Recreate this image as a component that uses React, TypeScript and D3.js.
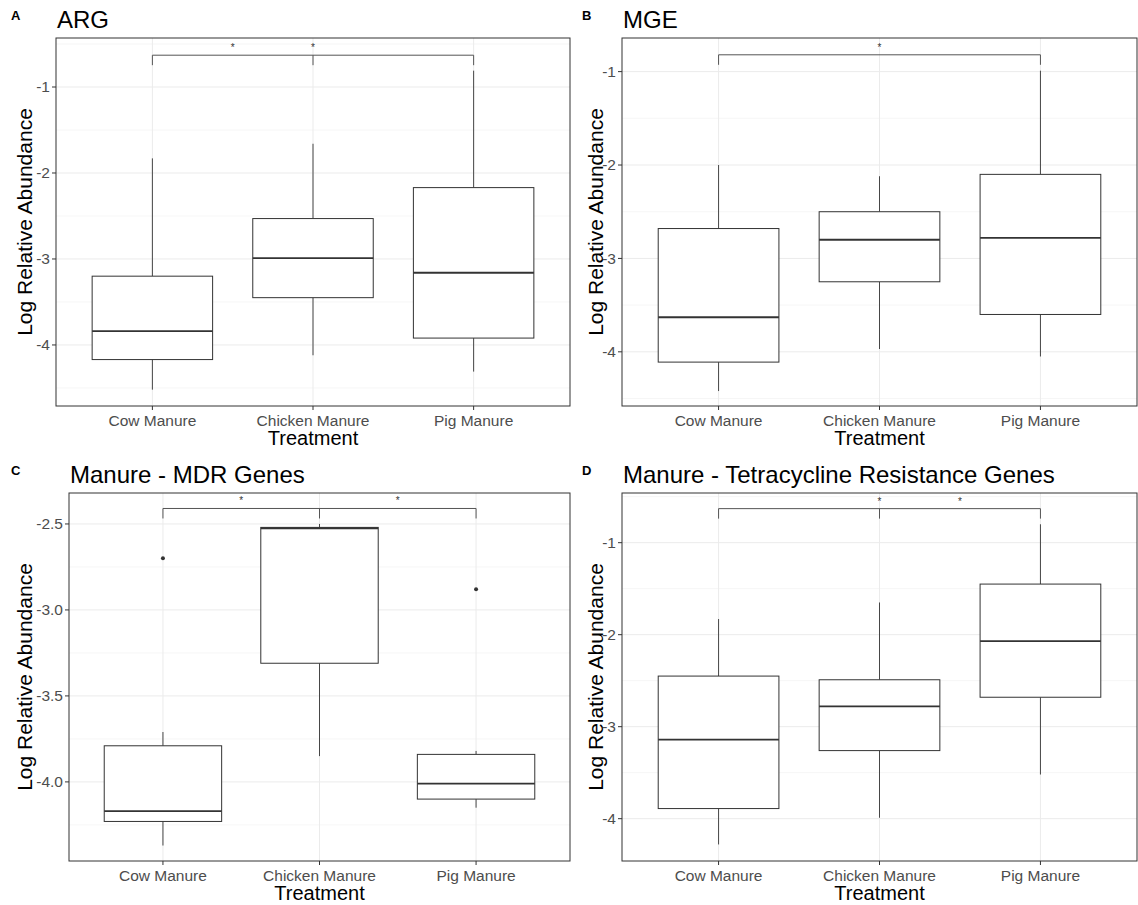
import React from "react";
import * as d3 from "d3";

// Treatment groups (x axis)
const categories = ["Cow Manure", "Chicken Manure", "Pig Manure"];

// Box statistics per group: [lower whisker, Q1, median, Q3, upper whisker]
const argStats = [
  [-4.52, -4.17, -3.84, -3.2, -1.83],
  [-4.12, -3.45, -2.99, -2.53, -1.66],
  [-4.31, -3.92, -3.16, -2.17, -0.81],
];
const mgeStats = [
  [-4.42, -4.11, -3.63, -2.68, -2.0],
  [-3.97, -3.25, -2.8, -2.5, -2.12],
  [-4.05, -3.6, -2.78, -2.1, -0.99],
];
const mdrStats = [
  [-4.37, -4.23, -4.17, -3.79, -3.71],
  [-3.85, -3.31, -2.525, -2.52, -2.5],
  [-4.15, -4.1, -4.01, -3.84, -3.82],
];
const tetStats = [
  [-4.28, -3.89, -3.14, -2.45, -1.83],
  [-3.99, -3.26, -2.78, -2.49, -1.65],
  [-3.52, -2.68, -2.07, -1.45, -0.8],
];

// Outliers: [group index, value]
const mdrOutliers: [number, number][] = [
  [0, -2.7],
  [2, -2.88],
];

// Significance comparisons: [group a, group b]
const argSig: [number, number][] = [[0, 1], [0, 2]];
const mgeSig: [number, number][] = [[0, 2]];
const mdrSig: [number, number][] = [[0, 1], [1, 2]];
const tetSig: [number, number][] = [[0, 2], [1, 2]];

// Bracket heights (data units)
const argSigY = -0.63;
const mgeSigY = -0.82;
const mdrSigY = -2.41;
const tetSigY = -0.63;

// Y axis ticks
const argTicks = [-4, -3, -2, -1];
const mgeTicks = [-4, -3, -2, -1];
const mdrTicks = [-4.0, -3.5, -3.0, -2.5];
const tetTicks = [-4, -3, -2, -1];

const argDomain = [-4.71, -0.43];
const mgeDomain = [-4.58, -0.64];
const mdrDomain = [-4.46, -2.32];
const tetDomain = [-4.46, -0.46];

type PanelProps = {
  tag: string;
  title: string;
  stats: number[][];
  outliers: [number, number][];
  sig: [number, number][];
  sigY: number;
  ticks: number[];
  domain: number[];
  tickFmt: (v: number) => string;
  originX: number;
  left: number;
  right: number;
  top: number;
  bottom: number;
  tagY: number;
};

const FONT = "'Liberation Sans', Arial, sans-serif";

function Panel(p: PanelProps) {
  const x = d3
    .scalePoint<string>()
    .domain(categories)
    .range([p.left, p.right])
    .padding(0.6);
  const step = x.step();
  const y = d3.scaleLinear().domain(p.domain).range([p.bottom, p.top]);
  const boxW = step * 0.75;

  const minor: number[] = [];
  for (let i = 0; i < p.ticks.length - 1; i++) {
    minor.push((p.ticks[i] + p.ticks[i + 1]) / 2);
  }
  const dt = p.ticks[1] - p.ticks[0];
  minor.push(p.ticks[0] - dt / 2, p.ticks[p.ticks.length - 1] + dt / 2);
  const minorIn = minor.filter((v) => y(v) > p.top && y(v) < p.bottom);

  const cx = (p.left + p.right) / 2;
  const cy = (p.top + p.bottom) / 2;
  const sy = y(p.sigY);
  const tip = 10;

  // bracket tips at every group taking part in a comparison
  const involved = Array.from(new Set(p.sig.flat())).sort();
  const minG = Math.min(...involved);
  const maxG = Math.max(...involved);

  return (
    <g fontFamily={FONT}>
      <text x={p.originX + 11} y={p.tagY} fontSize={13} fontWeight="bold" fill="#000">
        {p.tag}
      </text>
      <text x={p.left + 1} y={p.top - 10} fontSize={24} fill="#000">
        {p.title}
      </text>
      <rect x={p.left} y={p.top} width={p.right - p.left} height={p.bottom - p.top} fill="#fff" />
      {minorIn.map((v) => (
        <line key={"mi" + v} x1={p.left} x2={p.right} y1={y(v)} y2={y(v)} stroke="#f4f4f4" strokeWidth={0.8} />
      ))}
      {p.ticks.map((v) => (
        <line key={"ma" + v} x1={p.left} x2={p.right} y1={y(v)} y2={y(v)} stroke="#ebebeb" strokeWidth={1} />
      ))}
      {categories.map((c) => (
        <line key={"vx" + c} x1={x(c)} x2={x(c)} y1={p.top} y2={p.bottom} stroke="#ebebeb" strokeWidth={1} />
      ))}

      {/* boxes */}
      {p.stats.map((s, i) => {
        const c = x(categories[i])!;
        const [lo, q1, med, q3, hi] = s;
        return (
          <g key={"b" + i} stroke="#333" fill="none">
            <line x1={c} x2={c} y1={y(hi)} y2={y(q3)} strokeWidth={0.9} />
            <line x1={c} x2={c} y1={y(q1)} y2={y(lo)} strokeWidth={0.9} />
            <rect x={c - boxW / 2} y={y(q3)} width={boxW} height={y(q1) - y(q3)} fill="#fff" strokeWidth={1} />
            <line x1={c - boxW / 2} x2={c + boxW / 2} y1={y(med)} y2={y(med)} strokeWidth={1.8} />
          </g>
        );
      })}
      {p.outliers.map(([g, v], i) => (
        <circle key={"o" + i} cx={x(categories[g])} cy={y(v)} r={2} fill="#333" />
      ))}

      {/* significance brackets */}
      <g stroke="#555" strokeWidth={1} fill="none">
        <line x1={x(categories[minG])} x2={x(categories[maxG])} y1={sy} y2={sy} />
        {involved.map((g) => (
          <line key={"t" + g} x1={x(categories[g])} x2={x(categories[g])} y1={sy} y2={sy + tip} />
        ))}
      </g>
      {p.sig.map(([a, b], i) => (
        <text
          key={"s" + i}
          x={(x(categories[a])! + x(categories[b])!) / 2}
          y={sy - 4}
          fontSize={10}
          textAnchor="middle"
          fill="#333"
        >
          *
        </text>
      ))}

      <rect
        x={p.left}
        y={p.top}
        width={p.right - p.left}
        height={p.bottom - p.top}
        fill="none"
        stroke="#333"
        strokeWidth={1}
      />

      {/* y axis */}
      {p.ticks.map((v) => (
        <g key={"yt" + v}>
          <line x1={p.left - 4} x2={p.left} y1={y(v)} y2={y(v)} stroke="#333" />
          <text x={p.left - 6} y={y(v)} dy="0.35em" fontSize={15.5} textAnchor="end" fill="#4d4d4d">
            {p.tickFmt(v)}
          </text>
        </g>
      ))}
      {/* x axis */}
      {categories.map((c) => (
        <g key={"xt" + c}>
          <line x1={x(c)} x2={x(c)} y1={p.bottom} y2={p.bottom + 4} stroke="#333" />
          <text x={x(c)} y={p.bottom + 20} fontSize={15.5} textAnchor="middle" fill="#4d4d4d">
            {c}
          </text>
        </g>
      ))}
      <text x={cx} y={p.bottom + 39} fontSize={20} textAnchor="middle" fill="#000">
        Treatment
      </text>
      <text
        transform={`translate(${p.originX + 32},${cy}) rotate(-90)`}
        fontSize={21}
        textAnchor="middle"
        fill="#000"
      >
        Log Relative Abundance
      </text>
    </g>
  );
}

const intFmt = (v: number) => d3.format("d")(v).replace("−", "-");
const decFmt = (v: number) => d3.format(".1f")(v).replace("−", "-");

export default function App() {
  return (
    <svg width={1138} height={905} style={{ display: "block", position: "absolute", left: 0, top: 0 }}>
      <rect width={1138} height={905} fill="#fff" />
      <Panel
        tag="A"
        title="ARG"
        stats={argStats}
        outliers={[]}
        sig={argSig}
        sigY={argSigY}
        ticks={argTicks}
        domain={argDomain}
        tickFmt={intFmt}
        originX={0}
        left={56}
        right={570}
        top={38}
        bottom={406}
        tagY={20}
      />
      <Panel
        tag="B"
        title="MGE"
        stats={mgeStats}
        outliers={[]}
        sig={mgeSig}
        sigY={mgeSigY}
        ticks={mgeTicks}
        domain={mgeDomain}
        tickFmt={intFmt}
        originX={571}
        left={622}
        right={1137}
        top={38}
        bottom={406}
        tagY={20}
      />
      <Panel
        tag="C"
        title="Manure - MDR Genes"
        stats={mdrStats}
        outliers={mdrOutliers}
        sig={mdrSig}
        sigY={mdrSigY}
        ticks={mdrTicks}
        domain={mdrDomain}
        tickFmt={decFmt}
        originX={0}
        left={69}
        right={570}
        top={493}
        bottom={861}
        tagY={475}
      />
      <Panel
        tag="D"
        title="Manure - Tetracycline Resistance Genes"
        stats={tetStats}
        outliers={[]}
        sig={tetSig}
        sigY={tetSigY}
        ticks={tetTicks}
        domain={tetDomain}
        tickFmt={intFmt}
        originX={571}
        left={622}
        right={1137}
        top={493}
        bottom={861}
        tagY={475}
      />
    </svg>
  );
}
